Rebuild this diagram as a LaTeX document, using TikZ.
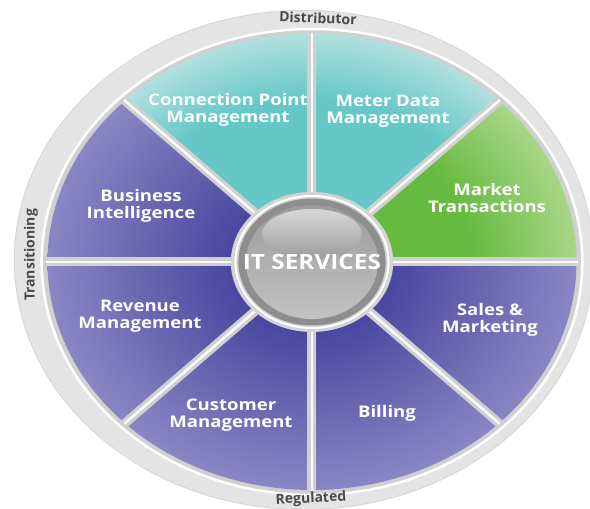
\documentclass[tikz,border=0pt]{standalone}
\usepackage{fontspec}
\newfontfamily\wedgefont[FakeStretch=1.16]{Open Sans}
\newfontfamily\ringfont{Open Sans}
\usetikzlibrary{positioning}

\definecolor{purpledark}{HTML}{4A48A0}
\definecolor{purplelight}{HTML}{8A86C4}
\definecolor{tealdark}{HTML}{66C8C6}
\definecolor{teallight}{HTML}{B0E0DF}
\definecolor{greendark}{HTML}{66BA3F}
\definecolor{greenlight}{HTML}{A8D688}
\definecolor{ringgray}{HTML}{E4E4E4}
\definecolor{ringedge}{HTML}{D6D6D6}
\definecolor{gapgray}{HTML}{D0D0D0}
\definecolor{labelgray}{HTML}{4A4A4A}
\definecolor{hubbevel}{HTML}{D3D3D3}
\definecolor{hubring}{HTML}{8E8E8E}
\definecolor{hubtop}{HTML}{9C9C9C}
\definecolor{hubbottom}{HTML}{C2C2C2}
\definecolor{hubshine}{HTML}{D8D8D8}

\pgfdeclareradialshading{purplefan}{\pgfpoint{0bp}{0bp}}{color(0bp)=(purpledark); color(8bp)=(purpledark); color(25bp)=(purplelight); color(50bp)=(purplelight)}
\pgfdeclareradialshading{tealfan}{\pgfpoint{0bp}{0bp}}{color(0bp)=(tealdark); color(18bp)=(tealdark); color(25bp)=(teallight); color(50bp)=(teallight)}
\pgfdeclareradialshading{greenfan}{\pgfpoint{0bp}{0bp}}{color(0bp)=(greendark); color(15bp)=(greendark); color(25bp)=(greenlight); color(50bp)=(greenlight)}

\begin{document}
\begin{tikzpicture}[x=1pt,y=1pt,
    wedgelabel/.style={text=white, align=center, font=\wedgefont\bfseries\fontsize{16}{16.5}\selectfont},
    ringlabel/.style={text=labelgray, font=\ringfont\bfseries\fontsize{14}{14}\selectfont},
    gapline/.style={draw=gapgray, line width=9pt},
    gaphigh/.style={draw=white!90!gapgray, line width=2.5pt}]

        \useasboundingbox (-312,-247) rectangle (278,262);

        % The wheel is a circle, stretched sideways
        \begin{scope}[xscale=1.16]
            \fill[ringgray] (-7,2) circle (250);
            \draw[ringedge,line width=0.8pt] (-7,2) circle (249.5);
            \fill[gapgray] (0,0) circle (233);
            \draw[white,line width=2.5pt] (0,0) circle (233);

            % Draw the eight sectors
            \foreach \a/\fan in {0/greenfan,45/tealfan,90/tealfan,135/purplefan,
                                 180/purplefan,225/purplefan,270/purplefan,315/purplefan} {
                \begin{scope}
                    \clip (0,0) -- (\a:228) arc[start angle=\a, delta angle=45, radius=228] -- cycle;
                    \shade[shading=\fan] (0,0) circle (228);
                \end{scope}
            }

            % Draw the gaps between the sectors
            \foreach \a in {0,45,...,315} {
                \draw[gapline] (0,0) -- (\a:229);
                \draw[gaphigh] (0,0) -- (\a:229);
            }

            % Draw the hub
            \fill[hubbevel] (0,0) circle (70);
            \draw[white,line width=2pt] (0,0) circle (66);
            \fill[hubring] (0,0) circle (63.5);
            \shade[top color=hubtop, bottom color=hubbottom] (0,0) circle (57);
            \shade[top color=hubshine, bottom color=hubtop] (0,28) ellipse [x radius=43, y radius=25];
        \end{scope}

        % Labels of the sectors
        \node[wedgelabel] (hub) at (0,0) {\fontsize{21}{21}\selectfont IT SERVICES};
        \node[wedgelabel] (connection) at (-84,152) {Connection Point\\Management};
        \node[wedgelabel] (meter) at (76,151) {Meter Data\\Management};
        \node[wedgelabel] (market) at (175,64) {Market\\Transactions};
        \node[wedgelabel] (business) at (-171,56) {Business\\Intelligence};
        \node[wedgelabel] (revenue) at (-172,-54) {Revenue\\Management};
        \node[wedgelabel] (customer) at (-81,-153) {Customer\\Management};
        \node[wedgelabel] (billing) at (75,-151) {Billing};
        \node[wedgelabel] (sales) at (178,-58) {Sales \&\\Marketing};

        % Labels on the ring
        \node[ringlabel,rotate=-2] (distributor) at (6,244) {Distributor};
        \node[ringlabel,rotate=3] (regulated) at (-1,-237) {Regulated};
        \node[ringlabel,rotate=90] (transitioning) at (-281,7) {Transitioning};

\end{tikzpicture}
\end{document}
